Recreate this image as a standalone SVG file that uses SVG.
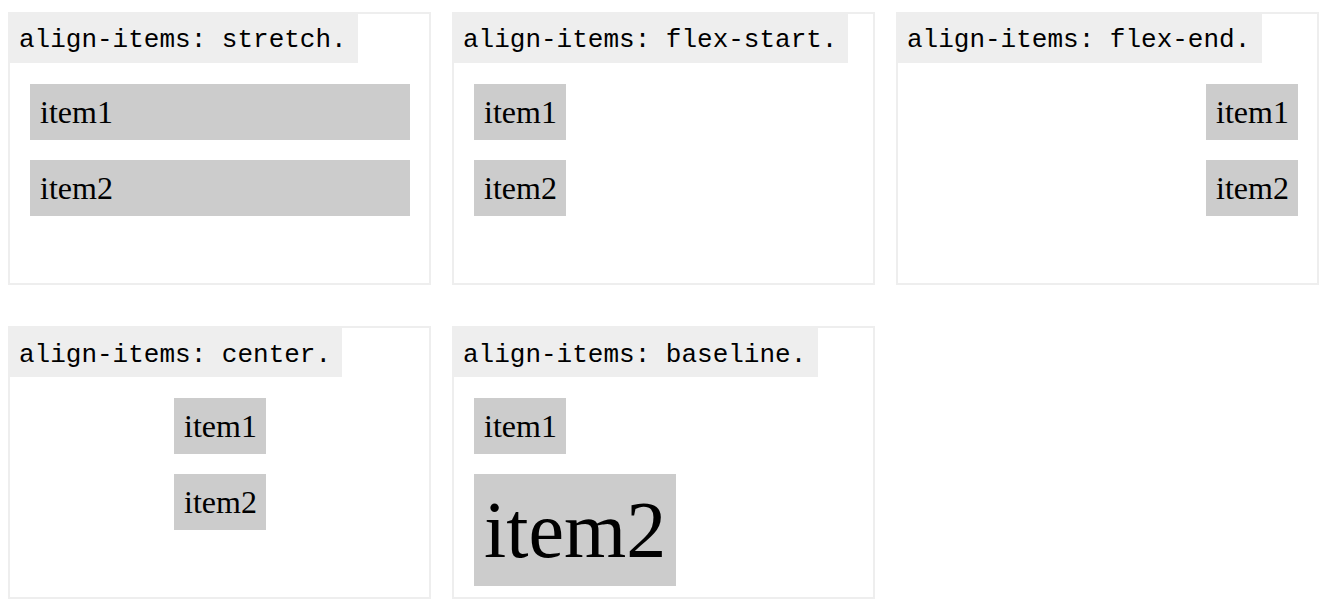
<svg xmlns="http://www.w3.org/2000/svg" width="1334" height="610" viewBox="0 0 1334 610">
<style>
.panel{fill:#fff;stroke:#eee;stroke-width:2}
.tbg{fill:#eee}
.title{font-family:"Liberation Mono","Courier New",monospace;font-size:26px;fill:#000}
.item{fill:#ccc}
.lbl{font-family:"Liberation Serif","Times New Roman",serif;font-size:32px;fill:#000}
.big{font-size:80px}
</style>
<rect width="1334" height="610" fill="#fff"/>
<g id="stretch">
<rect class="panel" x="9" y="13" width="421" height="271"/>
<rect class="tbg" x="8" y="12" width="350" height="51"/>
<text class="title" x="19" y="47">align-items: stretch.</text>
<rect class="item" x="30" y="84" width="380" height="56"/>
<text class="lbl" x="40" y="123">item1</text>
<rect class="item" x="30" y="160" width="380" height="56"/>
<text class="lbl" x="40" y="199">item2</text>
</g>
<g id="flex-start">
<rect class="panel" x="453" y="13" width="421" height="271"/>
<rect class="tbg" x="452" y="12" width="396" height="51"/>
<text class="title" x="463" y="47">align-items: flex-start.</text>
<rect class="item" x="474" y="84" width="92" height="56"/>
<text class="lbl" x="484" y="123">item1</text>
<rect class="item" x="474" y="160" width="92" height="56"/>
<text class="lbl" x="484" y="199">item2</text>
</g>
<g id="flex-end">
<rect class="panel" x="897" y="13" width="421" height="271"/>
<rect class="tbg" x="896" y="12" width="366" height="51"/>
<text class="title" x="907" y="47">align-items: flex-end.</text>
<rect class="item" x="1206" y="84" width="92" height="56"/>
<text class="lbl" x="1216" y="123">item1</text>
<rect class="item" x="1206" y="160" width="92" height="56"/>
<text class="lbl" x="1216" y="199">item2</text>
</g>
<g id="center">
<rect class="panel" x="9" y="327" width="421" height="271"/>
<rect class="tbg" x="8" y="326" width="334" height="51"/>
<text class="title" x="19" y="362">align-items: center.</text>
<rect class="item" x="174" y="398" width="92" height="56"/>
<text class="lbl" x="184" y="437">item1</text>
<rect class="item" x="174" y="474" width="92" height="56"/>
<text class="lbl" x="184" y="513">item2</text>
</g>
<g id="baseline">
<rect class="panel" x="453" y="327" width="421" height="271"/>
<rect class="tbg" x="452" y="326" width="366" height="51"/>
<text class="title" x="463" y="362">align-items: baseline.</text>
<rect class="item" x="474" y="398" width="92" height="56"/>
<text class="lbl" x="484" y="437">item1</text>
<rect class="item" x="474" y="474" width="202" height="112"/>
<text class="lbl big" x="484" y="557">item2</text>
</g>
<g id="connectors"/>
</svg>
